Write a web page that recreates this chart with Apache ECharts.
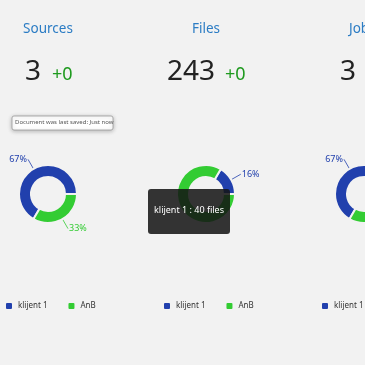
<!DOCTYPE html>
<html><head><meta charset="utf-8">
<script src="https://cdn.jsdelivr.net/npm/echarts@6/dist/echarts.min.js"></script>
<style>html,body{margin:0;padding:0;background:#f2f2f2;}#c{width:365px;height:365px;}</style>
</head><body><div id="c"></div>
<script>
const panelTitles = ['Sources', 'Files', 'Jobs'];
const totals = ['3', '243', '3'];
const deltas = ['+0', '+0', '+0'];
const categories = ['klijent 1', 'AnB'];
const sourcesValues = [2, 1];
const filesValues = [40, 203];
const jobsValues = [2, 1];
const tooltipText = 'klijent 1 : 40 files';
const savedText = 'Document was last saved: Just now';

const seriesValues = [sourcesValues, filesValues, jobsValues];
const colors = ['#2140ad', '#33cc33'];
const font = '"Segoe UI","Noto Sans","Open Sans",sans-serif';
const cx = [48, 206, 364];
const titleLeft = [null, null, 349];
const numLeft = [25, 167, 340];
const deltaLeft = [52, 225, 367];

const titles = [];
const legends = [];
const series = [];
panelTitles.forEach((t, i) => {
  titles.push({
    text: t, left: i < 2 ? cx[i] : titleLeft[i], top: 22, padding: 0,
    textAlign: i < 2 ? 'center' : 'left',
    textStyle: {color: '#2b7cc4', fontSize: 13.5, fontWeight: 'normal', fontFamily: font}
  });
  titles.push({
    text: totals[i], left: numLeft[i], top: 58, padding: 0,
    textStyle: {color: '#222', fontSize: 28, fontWeight: 'normal', fontFamily: font}
  });
  titles.push({
    text: deltas[i], left: deltaLeft[i], top: 66, padding: 0,
    textStyle: {color: '#1e9a1e', fontSize: 18, fontWeight: 'normal', fontFamily: font}
  });
  legends.push({
    left: cx[i] - 44, top: 301, padding: 0, width: 300, orient: 'horizontal',
    icon: 'roundRect', itemWidth: 8, itemHeight: 8,
    itemGap: 19, data: categories,
    textStyle: {fontSize: 8, color: '#333', fontFamily: font, padding: [0, 0, 0, 0]}
  });
  series.push({
    type: 'pie', center: [cx[i], 194], radius: [17, 29],
    startAngle: 0, clockwise: false, percentPrecision: 0,
    itemStyle: {borderColor: '#f2f2f2', borderWidth: 2},
    label: {formatter: '{d}%', fontSize: 9, fontFamily: font, overflow: 'none', distanceToLabelLine: 1},
    labelLine: {length: 11, length2: 0, lineStyle: {width: 0.8}},
    emphasis: {disabled: true},
    data: categories.map((c, k) => ({
      name: c, value: seriesValues[i][k],
      label: {color: colors[k], show: !(i === 1 && k === 1)},
      labelLine: {show: !(i === 1 && k === 1), lineStyle: {color: colors[k]}}
    }))
  });
});

const chart = echarts.init(document.getElementById('c'));
chart.setOption({
  backgroundColor: '#f2f2f2',
  animation: false,
  color: colors,
  title: titles,
  legend: legends,
  series: series,
  graphic: [
    {type: 'rect', z: 100, shape: {x: 12, y: 116, width: 101, height: 14, r: 2},
     style: {fill: '#fff', stroke: '#9a9a9a', lineWidth: 0.8, shadowBlur: 4, shadowColor: 'rgba(0,0,0,0.25)', shadowOffsetY: 1}},
    {type: 'text', z: 101, left: 15, top: 119,
     style: {text: savedText, fontSize: 6, fill: '#555', fontFamily: font}},
    {type: 'rect', z: 100, shape: {x: 148, y: 189, width: 82, height: 45, r: 3},
     style: {fill: 'rgba(20,20,20,0.86)'}},
    {type: 'text', z: 101, left: 154, top: 206,
     style: {text: tooltipText, fontSize: 9, fill: '#fff', fontFamily: font}}
  ]
});
</script></body></html>
